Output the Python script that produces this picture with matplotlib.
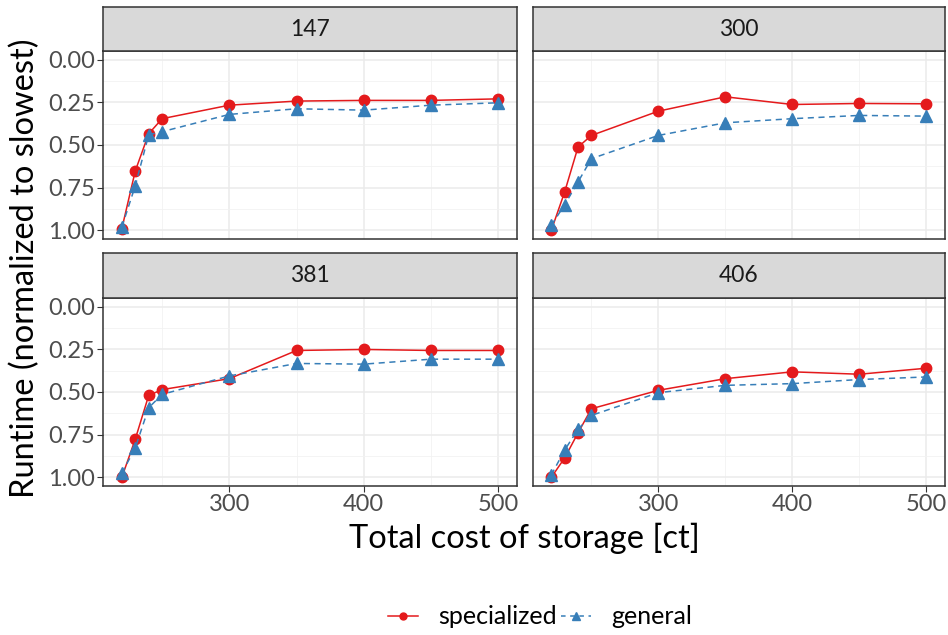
import matplotlib
matplotlib.use("Agg")
import matplotlib.pyplot as plt
from matplotlib.lines import Line2D

plt.rcParams['font.family'] = ['Lato', 'DejaVu Sans']

# data
cost = [220, 230, 240, 250, 300, 350, 400, 450, 500]
panels = ["147", "300", "381", "406"]
specialized = {
    "147": [0.99, 0.652, 0.434, 0.346, 0.267, 0.243, 0.239, 0.239, 0.230],
    "300": [1.00, 0.775, 0.512, 0.444, 0.302, 0.218, 0.263, 0.257, 0.259],
    "381": [1.00, 0.776, 0.520, 0.486, 0.422, 0.257, 0.251, 0.257, 0.257],
    "406": [1.00, 0.886, 0.739, 0.598, 0.490, 0.422, 0.382, 0.396, 0.361],
}
general = {
    "147": [0.98, 0.739, 0.440, 0.422, 0.321, 0.288, 0.296, 0.267, 0.253],
    "300": [0.97, 0.850, 0.716, 0.580, 0.444, 0.370, 0.346, 0.327, 0.331],
    "381": [0.975, 0.827, 0.592, 0.514, 0.406, 0.333, 0.337, 0.308, 0.308],
    "406": [0.986, 0.840, 0.718, 0.637, 0.504, 0.461, 0.451, 0.427, 0.412],
}
x_ticks = [300, 400, 500]
x_minor = [250, 350, 450]
y_ticks = [0.0, 0.25, 0.5, 0.75, 1.0]
y_minor = [0.125, 0.375, 0.625, 0.875]

RED = "#E41A1C"
BLUE = "#377EB8"
W, H = 948, 635

fig = plt.figure(figsize=(W / 100, H / 100), dpi=100)


def box(l, t, r, b):
    # pixel box -> figure fraction
    return [l / W, 1 - b / H, (r - l) / W, (b - t) / H]


cols = [(103, 517), (532.5, 945)]
rows = [(7, 51, 239), (253, 298, 486)]

for i, p in enumerate(panels):
    r, c = divmod(i, 2)
    l, rr = cols[c]
    st, pt, pb = rows[r]
    ax = fig.add_axes(box(l, pt, rr, pb))
    for g in x_ticks:
        ax.axvline(g, color="#EBEBEB", lw=1.1, zorder=0)
    for g in x_minor:
        ax.axvline(g, color="#F2F2F2", lw=0.6, zorder=0)
    for g in y_ticks:
        ax.axhline(g, color="#EBEBEB", lw=1.1, zorder=0)
    for g in y_minor:
        ax.axhline(g, color="#F2F2F2", lw=0.6, zorder=0)
    ax.plot(cost, specialized[p], color=RED, lw=1.1, marker="o", ms=7.5, zorder=3)
    ax.plot(cost, general[p], color=BLUE, lw=1.1, ls=(0, (4, 3)), marker="^", ms=8.5, zorder=4)
    ax.set_xlim(206, 514)
    ax.set_ylim(1.05, -0.05)
    ax.set_xticks(x_ticks)
    ax.set_yticks(y_ticks)
    ax.tick_params(length=4, width=0.8, color="#333333", labelcolor="#4D4D4D",
                   labelsize=17, pad=2)
    if r == 0:
        ax.tick_params(axis="x", bottom=False, labelbottom=False)
    if c == 1:
        ax.tick_params(axis="y", left=False, labelleft=False)
    ax.set_yticklabels(["0.00", "0.25", "0.50", "0.75", "1.00"])
    for s in ax.spines.values():
        s.set_color("#333333")
        s.set_linewidth(1.1)

    sx = fig.add_axes(box(l, st, rr, pt))
    sx.set_facecolor("#D9D9D9")
    sx.set_xticks([])
    sx.set_yticks([])
    for s in sx.spines.values():
        s.set_color("#333333")
        s.set_linewidth(1.1)
    sx.text(0.5, 0.5, p, ha="center", va="center", fontsize=16.5, color="#1A1A1A",
            transform=sx.transAxes)

fig.text(25 / W, 1 - 268 / H, "Runtime (normalized to slowest)", rotation=90,
         ha="center", va="center", fontsize=23.5)
fig.text(524 / W, 1 - 538 / H, "Total cost of storage [ct]", ha="center",
         va="center", fontsize=23.5)

handles = [
    Line2D([], [], color=RED, lw=1.1, marker="o", ms=5),
    Line2D([], [], color=BLUE, lw=1.1, ls=(0, (3, 3)), marker="^", ms=5.5),
]
fig.legend(handles, ["specialized", "general"], loc="center",
           bbox_to_anchor=(540 / W, 1 - 617 / H), ncol=2, frameon=False,
           fontsize=18, handlelength=1.2, handletextpad=0.8, columnspacing=0.2)

fig.savefig("out.png", dpi=100)
